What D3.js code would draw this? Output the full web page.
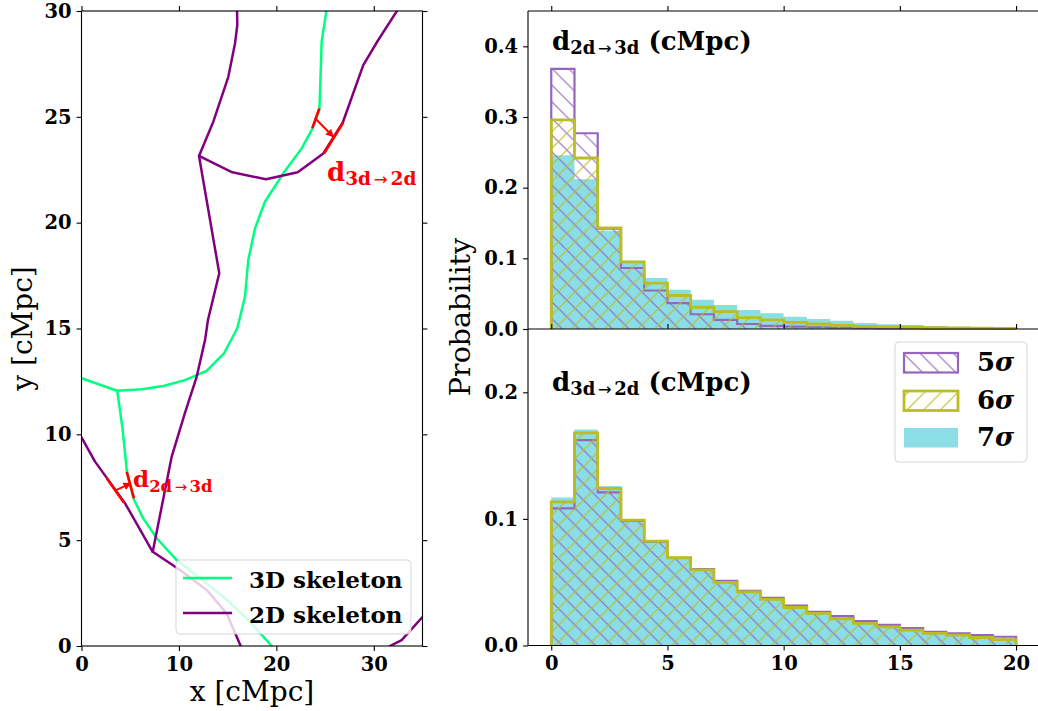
<!DOCTYPE html>
<html><head><meta charset="utf-8">
<script src="https://cdn.jsdelivr.net/npm/d3@7"></script>
<style>
body{margin:0;background:#fff}
svg{display:block}
text{font-family:"DejaVu Serif",serif}
</style>
</head><body>
<svg id="chart" width="1038" height="711"></svg>
<script>
// ---------------- data ----------------
const binEdges = [0,1,2,3,4,5,6,7,8,9,10,11,12,13,14,15,16,17,18,19,20];
// top panel: d_{2d->3d}
const top5sig = [0.368,0.277,0.142,0.0863,0.0545,0.0365,0.0209,0.0128,0.0071,0.0043,0.0033,0.0025,0.0018,0.0013,0.001,0.0008,0.0006,0.0005,0.0004,0.0003];
const top6sig = [0.296,0.242,0.143,0.0949,0.065,0.0474,0.0308,0.0246,0.0161,0.0128,0.0095,0.0071,0.005,0.0038,0.003,0.0025,0.002,0.0015,0.0012,0.001];
const top7sig = [0.246,0.212,0.139,0.0967,0.072,0.0555,0.0413,0.0341,0.027,0.0223,0.0175,0.0142,0.0118,0.0085,0.0067,0.0057,0.0043,0.0033,0.0028,0.0028];
// bottom panel: d_{3d->2d}
const bot5sig = [0.1083,0.1623,0.121,0.0985,0.082,0.0693,0.0603,0.051,0.0432,0.0376,0.0316,0.0266,0.0232,0.0192,0.0163,0.0137,0.0108,0.0095,0.0082,0.0069];
const bot6sig = [0.1135,0.168,0.124,0.099,0.0825,0.0693,0.0598,0.0498,0.0424,0.0364,0.030,0.0253,0.021,0.0174,0.0147,0.0121,0.0095,0.0082,0.0063,0.0047];
const bot7sig = [0.117,0.1707,0.126,0.0998,0.0832,0.070,0.0603,0.051,0.0437,0.0376,0.0313,0.0263,0.0226,0.0187,0.016,0.0134,0.0111,0.0092,0.0076,0.0058];
const sigmaLabels = ["5","6","7"];

// skeletons (cMpc)
const skel3D = [
  [[25.2,30.2],[24.65,28.55],[24.48,26.11],[24.41,25.32],[23.63,24.37],[22.60,23.51],[20.71,22.33],[18.83,20.99],[17.81,19.73],[17.12,18.23],[16.78,16.50],[15.99,15.01],[14.63,13.83],[12.85,13.00],[10.62,12.56],[8.40,12.28],[6.18,12.13],[3.67,12.06]],
  [[0,12.65],[3.67,12.06]],
  [[3.67,12.06],[4.23,10.20],[4.64,8.31],[5.32,6.98],[6.34,6.03],[7.72,5.09],[9.77,4.06],[12.16,3.20],[14.55,2.33],[17.12,1.23],[19.52,0],[19.9,-0.3]]
];
const skel2D = [
  [[15.96,30.2],[15.99,29.33],[15.76,28.48],[15.07,26.89],[13.53,24.77],[12.06,23.15],[14.14,17.61],[12.98,15.40],[12.68,14.45],[11.82,12.72],[10.62,11.01],[9.26,8.95],[7.31,4.45]],
  [[0,9.86],[1.39,8.71],[4.46,6.75],[7.31,4.45],[10.11,3.59],[12.85,2.65],[14.90,1.54],[16.34,0],[16.5,-0.3]],
  [[12.06,23.15],[15.48,22.38],[18.94,22.05],[22.19,22.38],[24.82,23.27],[26.81,24.72],[28.92,27.44],[30.46,28.63],[32.35,29.98],[32.6,30.2]],
  [[31.66,0],[32.86,0.28],[35.02,1.38],[36,2]]
];
const redSegments = [
  [[24.41,25.40],[23.69,24.46]], [[26.87,24.74],[24.89,23.27]],
  [[2.59,7.92],[4.36,6.77]], [[4.64,8.23],[5.39,6.98]]
];
const redArrows = [
  [[23.97,24.93],[25.85,24.06]],
  [[3.44,7.34],[5.05,7.68]]
];
const skelLabels = ["3D skeleton","2D skeleton"];
const leftXTicks = [0,10,20,30];
const leftYTicks = [0,5,10,15,20,25,30];
const histXTicks = [0,5,10,15,20];
const topYTicks = [0,0.1,0.2,0.3,0.4];
const botYTicks = [0,0.1,0.2];

// ---------------- styles ----------------
const C3D = "#00ff7f", C2D = "#800080", CRED = "#ff0000";
const C5 = "#9467bd", C6 = "#bcbd22", C7 = "#8bdde6";
const TICKFONT = 19.5;

const svg = d3.select("#chart");
const defs = svg.append("defs");

// hatch patterns
const HS = 16.67;
function hatch(id, color, back) {
  const p = defs.append("pattern").attr("id", id).attr("patternUnits","userSpaceOnUse")
    .attr("width", HS).attr("height", HS);
  const d = back
    ? `M0,0 L${HS},${HS} M${-HS/4},${HS*3/4} L${HS/4},${HS*5/4} M${HS*3/4},${-HS/4} L${HS*5/4},${HS/4}`
    : `M0,${HS} L${HS},0 M${-HS/4},${HS/4} L${HS/4},${-HS/4} M${HS*3/4},${HS*5/4} L${HS*5/4},${HS*3/4}`;
  p.append("path").attr("d", d).attr("stroke", color).attr("stroke-width", 1.1).attr("fill","none");
}
hatch("h5", C5, true);
hatch("h6", C6, false);

// arrow marker
defs.append("marker").attr("id","arr").attr("viewBox","0 0 10 10").attr("refX",9).attr("refY",5)
  .attr("markerWidth",4).attr("markerHeight",4).attr("orient","auto").attr("markerUnits","strokeWidth")
  .append("path").attr("d","M0,0 L10,5 L0,10 z").attr("fill",CRED);

// ---------------- left panel ----------------
const L = {x0:81.5, x1:422.5, y0:11, y1:646};
const lx = d3.scaleLinear().domain([0,35]).range([L.x0, L.x1]);
const ly = d3.scaleLinear().domain([0,30]).range([L.y1, L.y0]);
defs.append("clipPath").attr("id","clipL").append("rect")
  .attr("x",L.x0).attr("y",L.y0).attr("width",L.x1-L.x0).attr("height",L.y1-L.y0);

const gL = svg.append("g");
const lineL = d3.line().x(d=>lx(d[0])).y(d=>ly(d[1]));
const plotL = gL.append("g").attr("clip-path","url(#clipL)");
skel3D.forEach(s => plotL.append("path").attr("d", lineL(s)).attr("fill","none")
  .attr("stroke",C3D).attr("stroke-width",2.5).attr("stroke-linejoin","round").attr("stroke-linecap","round"));
skel2D.forEach(s => plotL.append("path").attr("d", lineL(s)).attr("fill","none")
  .attr("stroke",C2D).attr("stroke-width",2.5).attr("stroke-linejoin","round").attr("stroke-linecap","round"));
redSegments.forEach(s => plotL.append("path").attr("d", lineL(s)).attr("fill","none")
  .attr("stroke",CRED).attr("stroke-width",2.6));
redArrows.forEach(s => plotL.append("path").attr("d", lineL(s)).attr("fill","none")
  .attr("stroke",CRED).attr("stroke-width",2).attr("marker-end","url(#arr)"));

// subscript text helper
function subText(g, x, y, main, sub, rest, size, subSize, shift, color) {
  const t = g.append("text").attr("x",x).attr("y",y).attr("fill",color)
    .attr("font-weight","bold").attr("font-size",size);
  t.append("tspan").text(main);
  const parts = sub.split("→");
  t.append("tspan").attr("font-size",subSize).attr("dy",shift).text(parts[0]);
  t.append("tspan").attr("font-size",subSize*0.9).attr("font-family","DejaVu Sans").attr("font-weight","normal").attr("dx",subSize*0.15).text("→");
  t.append("tspan").attr("font-size",subSize).attr("dx",subSize*0.15).text(parts[1]);
  if (rest) t.append("tspan").attr("dy",-shift).attr("font-size",size).text(rest);
  return t;
}
subText(gL, lx(25.2), ly(21.96), "d", "3d→2d", null, 26, 18.5, 4, CRED);
subText(gL, lx(5.29), ly(7.49), "d", "2d→3d", null, 23, 16.5, 4.5, CRED);

// left axes
function styleAxis(g){
  g.select(".domain").remove();
  g.selectAll(".tick line").attr("stroke","#000").attr("stroke-width",1.1);
  g.selectAll(".tick text").attr("font-family","DejaVu Serif").attr("font-weight","bold")
    .attr("font-size",TICKFONT).attr("fill","#000");
}
gL.append("g").attr("transform",`translate(0,${L.y1})`)
  .call(d3.axisBottom(lx).tickValues(leftXTicks).tickSize(4.9).tickPadding(6).tickFormat(d3.format("d"))).call(styleAxis);
gL.append("g").attr("transform",`translate(0,${L.y0})`)
  .call(d3.axisTop(lx).tickValues(leftXTicks).tickSize(4.9).tickFormat("")).call(styleAxis);
gL.append("g").attr("transform",`translate(${L.x0},0)`)
  .call(d3.axisLeft(ly).tickValues(leftYTicks).tickSize(4.9).tickPadding(5).tickFormat(d3.format("d"))).call(styleAxis);
gL.append("g").attr("transform",`translate(${L.x1},0)`)
  .call(d3.axisRight(ly).tickValues(leftYTicks).tickSize(4.9).tickFormat("")).call(styleAxis);
gL.append("rect").attr("x",L.x0).attr("y",L.y0).attr("width",L.x1-L.x0).attr("height",L.y1-L.y0)
  .attr("fill","none").attr("stroke","#000").attr("stroke-width",1.1);

gL.append("text").attr("x",(L.x0+L.x1)/2).attr("y",701).attr("text-anchor","middle")
  .attr("font-size",28).text("x [cMpc]");
gL.append("text").attr("transform",`translate(32,${(L.y0+L.y1)/2}) rotate(-90)`).attr("text-anchor","middle")
  .attr("font-size",28).text("y [cMpc]");

// left legend
const lg = gL.append("g");
lg.append("rect").attr("x",176).attr("y",560).attr("width",235).attr("height",74).attr("rx",4)
  .attr("fill","#fff").attr("fill-opacity",0.8).attr("stroke","#cccccc").attr("stroke-opacity",0.8);
[C3D, C2D].forEach((c,i) => {
  const yy = 578 + i*35;
  lg.append("line").attr("x1",183).attr("x2",232).attr("y1",yy).attr("y2",yy).attr("stroke",c).attr("stroke-width",2.5);
  lg.append("text").attr("x",249).attr("y",yy+9.5).attr("font-weight","bold").attr("font-size",23).text(skelLabels[i]);
});

// ---------------- right panels ----------------
const R = {x0:528, x1:1039.3, yt0:11, ymid:329, yb1:645.5};
const hx = d3.scaleLinear().domain([-1,21]).range([R.x0, R.x1]);
const hyT = d3.scaleLinear().domain([0,0.45]).range([R.ymid, R.yt0]);
const hyB = d3.scaleLinear().domain([0,0.25]).range([R.yb1, R.ymid]);

function stepPts(vals){
  const pts = [[binEdges[0],0]];
  vals.forEach((v,i) => { pts.push([binEdges[i],v]); pts.push([binEdges[i+1],v]); });
  pts.push([binEdges[binEdges.length-1],0]);
  return pts;
}
function drawHist(g, ys, v5, v6, v7){
  const ln = d3.line().x(d=>hx(d[0])).y(d=>ys(d[1]));
  g.append("path").attr("d", ln(stepPts(v7))+"Z").attr("fill",C7).attr("stroke","none");
  g.append("path").attr("d", ln(stepPts(v5))+"Z").attr("fill","url(#h5)").attr("stroke","none");
  g.append("path").attr("d", ln(stepPts(v5))).attr("fill","none").attr("stroke",C5).attr("stroke-width",2.2);
  g.append("path").attr("d", ln(stepPts(v6))+"Z").attr("fill","url(#h6)").attr("stroke","none");
  g.append("path").attr("d", ln(stepPts(v6))).attr("fill","none").attr("stroke",C6).attr("stroke-width",2.8);
}
const gR = svg.append("g");
drawHist(gR.append("g"), hyT, top5sig, top6sig, top7sig);
drawHist(gR.append("g"), hyB, bot5sig, bot6sig, bot7sig);

// axes
gR.append("g").attr("transform",`translate(${R.x0},0)`)
  .call(d3.axisLeft(hyT).tickValues(topYTicks).tickSize(4.9).tickPadding(5).tickFormat(d3.format(".1f"))).call(styleAxis);
gR.append("g").attr("transform",`translate(${R.x0},0)`)
  .call(d3.axisLeft(hyB).tickValues(botYTicks).tickSize(4.9).tickPadding(5).tickFormat(d3.format(".1f"))).call(styleAxis);
gR.append("g").attr("transform",`translate(0,${R.yt0})`)
  .call(d3.axisTop(hx).tickValues(histXTicks).tickSize(4.9).tickFormat("")).call(styleAxis);
gR.append("g").attr("transform",`translate(0,${R.ymid})`)
  .call(d3.axisTop(hx).tickValues(histXTicks).tickSize(4.9).tickFormat("")).call(styleAxis);
gR.append("g").attr("transform",`translate(0,${R.yb1})`)
  .call(d3.axisBottom(hx).tickValues(histXTicks).tickSize(4.9).tickPadding(6).tickFormat(d3.format("d"))).call(styleAxis);
// spines (right spine lies just outside the picture)
[[R.x0,R.yt0,R.x0,R.yb1],[R.x0,R.yt0,R.x1,R.yt0],[R.x0,R.ymid,R.x1,R.ymid],[R.x0,R.yb1,R.x1,R.yb1]]
  .forEach(s => gR.append("line").attr("x1",s[0]).attr("y1",s[1]).attr("x2",s[2]).attr("y2",s[3])
    .attr("stroke","#000").attr("stroke-width",1.1));

// titles
subText(gR, 552, 50, "d", "2d→3d", " (cMpc)", 26, 18, 4, "#000");
subText(gR, 552, 391, "d", "3d→2d", " (cMpc)", 26, 18, 4, "#000");

gR.append("text").attr("transform",`translate(470,317) rotate(-90)`).attr("text-anchor","middle")
  .attr("font-size",28.5).text("Probability");

// right legend
const rg = gR.append("g");
rg.append("rect").attr("x",895).attr("y",342).attr("width",132).attr("height",120).attr("rx",4)
  .attr("fill","#fff").attr("fill-opacity",0.8).attr("stroke","#cccccc").attr("stroke-opacity",0.8);
const patchY = [353, 391, 428];
rg.append("rect").attr("x",904).attr("y",patchY[0]).attr("width",54).attr("height",19.5)
  .attr("fill","url(#h5)").attr("stroke",C5).attr("stroke-width",2.2);
rg.append("rect").attr("x",904).attr("y",patchY[1]).attr("width",54).attr("height",19.5)
  .attr("fill","url(#h6)").attr("stroke",C6).attr("stroke-width",2.8);
rg.append("rect").attr("x",904).attr("y",patchY[2]).attr("width",54).attr("height",19.5)
  .attr("fill",C7);
sigmaLabels.forEach((s,i) => {
  const t = rg.append("text").attr("x",977).attr("y",patchY[i]+18).attr("font-weight","bold").attr("font-size",26);
  t.append("tspan").text(s);
  t.append("tspan").attr("font-style","italic").text("σ");
});
</script>
</body></html>
